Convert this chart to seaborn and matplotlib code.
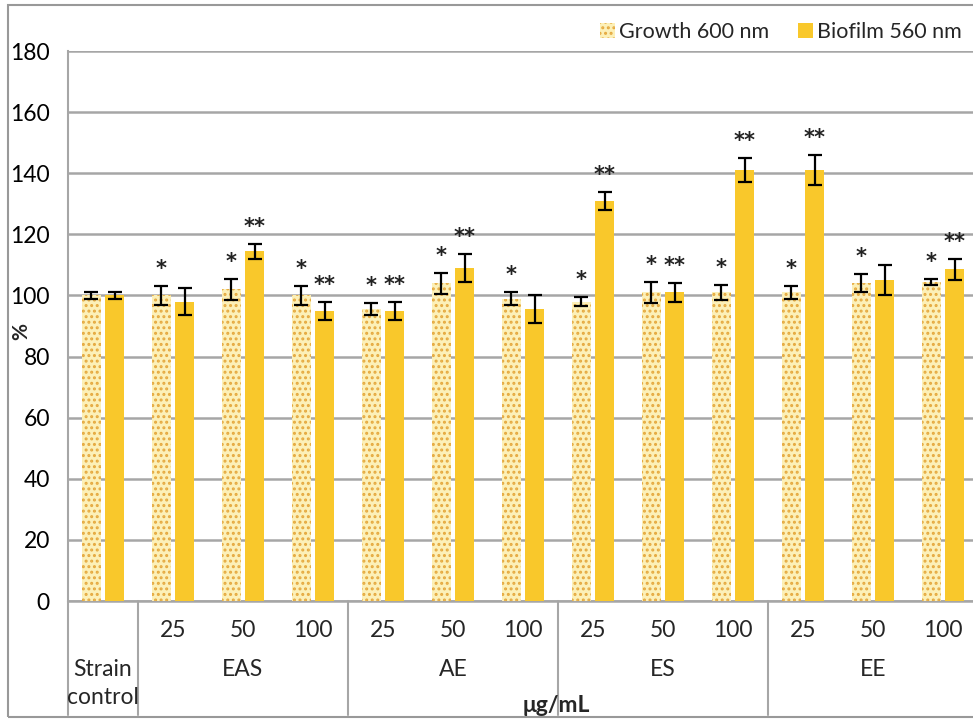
import matplotlib
matplotlib.use("Agg")
import matplotlib.pyplot as plt
import matplotlib.transforms as mtransforms
from matplotlib.patches import Rectangle
import numpy as np
import pandas as pd
import seaborn as sns

# ── Data ──────────────────────────────────────────────────────────────────────
conditions = ["Strain control",
              "EAS 25", "EAS 50", "EAS 100",
              "AE 25", "AE 50", "AE 100",
              "ES 25", "ES 50", "ES 100",
              "EE 25", "EE 50", "EE 100"]
dose_labels = ["", "25", "50", "100", "25", "50", "100",
               "25", "50", "100", "25", "50", "100"]
group_names = ["EAS", "AE", "ES", "EE"]
series = ["Growth 600 nm", "Biofilm 560 nm"]

growth = [100, 100, 102, 100, 95.5, 104, 99, 98, 101, 101, 101, 104, 104.5]
growth_err = [1, 3, 3.5, 3, 2, 3.5, 2, 1.5, 3.5, 2.5, 2, 3, 1]
biofilm = [100, 98, 114.5, 95, 95, 109, 95.5, 131, 101, 141, 141, 105, 108.5]
biofilm_err = [1, 4.5, 2.5, 3, 3, 4.5, 4.5, 3, 3, 4, 5, 5, 3.5]

growth_sig = ["", "*", "*", "*", "*", "*", "*", "*", "*", "*", "*", "*", "*"]
biofilm_sig = ["", "", "**", "**", "**", "**", "", "**", "**", "**", "**", "", "**"]

# ── Style ─────────────────────────────────────────────────────────────────────
sns.set_theme(style="white")
plt.rcParams["font.family"] = ["Lato", "DejaVu Sans"]
plt.rcParams["hatch.linewidth"] = 1.4

GRID = "#a6a6a6"
FONT = 16.5

df = pd.DataFrame({
    "cond": conditions * 2,
    "series": [series[0]] * len(conditions) + [series[1]] * len(conditions),
    "value": growth + biofilm,
})

fig = plt.figure(figsize=(9.73, 7.2), dpi=100)
ax = fig.add_axes([68 / 973, 1 - 601 / 720, 905 / 973, 550 / 720])

sns.barplot(data=df, x="cond", y="value", hue="series",
            order=conditions, hue_order=series,
            palette=["#fcf0b8", "#f9c82b"], saturation=1,
            width=0.66, gap=0.2, errorbar=None, legend=False,
            linewidth=0, ax=ax, zorder=3)

# dotted growth bars
for p in ax.containers[0]:
    p.set_hatch("...")
    p.set_edgecolor("#e5a93f")
    p.set_linewidth(0)

# error bars + significance stars
for cont, vals, errs, sig in [(ax.containers[0], growth, growth_err, growth_sig),
                              (ax.containers[1], biofilm, biofilm_err, biofilm_sig)]:
    xs = [p.get_x() + p.get_width() / 2 for p in cont]
    ax.errorbar(xs, vals, yerr=errs, fmt="none", ecolor="black",
                elinewidth=1.6, capsize=5, capthick=1.6, zorder=4)
    for x, v, e, s in zip(xs, vals, errs, sig):
        if s:
            ax.annotate(s, (x, v + e), xytext=(0, 5),
                        textcoords="offset points", ha="center", va="bottom",
                        fontsize=15, fontweight="bold", color="#222222",
                        family=["DejaVu Sans"])

ax.set_ylim(0, 180)
ax.set_yticks(np.arange(0, 181, 20))
ax.set_xlim(-0.5, -0.5 + 905 / 70)
ax.yaxis.grid(True, color=GRID, linewidth=1.8, zorder=0)
ax.set_axisbelow(True)
ax.tick_params(axis="y", length=0, labelsize=FONT, pad=13, colors="black")
ax.set_xticks([])
ax.set_xlabel("")
ax.set_ylabel("%", fontsize=15, fontweight="bold", va="center")
ax.yaxis.set_label_coords(-0.052, 0.49)
for side in ["top", "right"]:
    ax.spines[side].set_visible(False)
ax.spines["left"].set_color(GRID)
ax.spines["left"].set_linewidth(1.5)
ax.spines["bottom"].set_color(GRID)
ax.spines["bottom"].set_linewidth(1.8)

# category table below the axis
trans = mtransforms.blended_transform_factory(ax.transData, ax.transAxes)
for i, lab in enumerate(dose_labels):
    if lab:
        ax.text(i, -0.053, lab, transform=trans, ha="center", va="center",
                fontsize=FONT)
for k, name in enumerate(group_names):
    ax.text(2 + 3 * k, -0.125, name, transform=trans, ha="center",
            va="center", fontsize=FONT)
ax.text(0, -0.125, "Strain", transform=trans, ha="center", va="center",
        fontsize=FONT)
ax.text(0, -0.176, "control", transform=trans, ha="center", va="center",
        fontsize=FONT)
for xb in [-0.5, 0.5, 3.5, 6.5, 9.5]:
    ax.plot([xb, xb], [0, -0.207], transform=trans, color=GRID,
            linewidth=1.5, clip_on=False)
ax.text(6.47, -0.19, "μg/mL", transform=trans, ha="center", va="center",
        fontsize=FONT, fontweight="bold")

# legend
ax.legend(handles=[ax.containers[0][0], ax.containers[1][0]], labels=series,
          loc="lower right", bbox_to_anchor=(0.997, 1.0), ncol=2, frameon=False,
          fontsize=15.5, handlelength=0.7, handleheight=0.7, handletextpad=0.2,
          columnspacing=1.3, borderaxespad=0.0)

# outer frame
fig.patches.append(Rectangle((8 / 973, 1 - 717 / 720), 1.0, 712 / 720,
                             transform=fig.transFigure, fill=False,
                             edgecolor="#999999", linewidth=1.5))

fig.savefig("out.png", dpi=100, facecolor="white")
